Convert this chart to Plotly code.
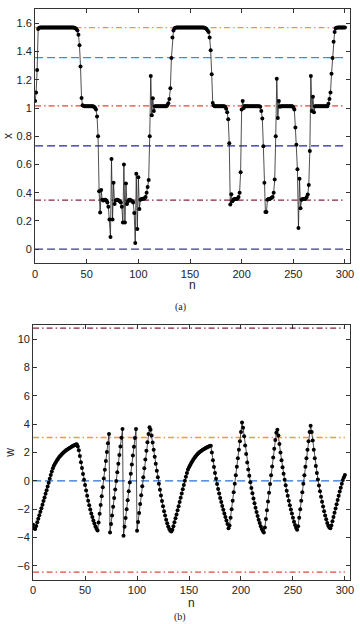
import plotly.graph_objects as go

# ---------------- data ----------------
n = list(range(0, 301))

x_vals = [
    1.05, 1.11, 1.27, 1.56, 1.57, 1.571, 1.571, 1.571, 1.571, 1.571,
    1.571, 1.571, 1.571, 1.571, 1.571, 1.571, 1.571, 1.571, 1.571, 1.571,
    1.571, 1.571, 1.571, 1.571, 1.571, 1.571, 1.571, 1.571, 1.571, 1.571,
    1.571, 1.571, 1.571, 1.571, 1.571, 1.571, 1.571, 1.571, 1.569, 1.566,
    1.56, 1.55, 1.52, 1.445, 1.295, 1.072, 1.02, 1.014, 1.013, 1.013,
    1.013, 1.013, 1.013, 1.013, 1.013, 1.013, 1.013, 1.01, 1.003, 0.99,
    0.94, 0.80, 0.41, 0.26, 0.42, 0.35, 0.345, 0.35, 0.35, 0.345,
    0.33, 0.30, 0.21, 0.086, 0.64, 0.21, 0.47, 0.32, 0.345, 0.35,
    0.35, 0.345, 0.34, 0.33, 0.30, 0.19, 0.60, 0.19, 0.466, 0.32,
    0.34, 0.35, 0.35, 0.345, 0.34, 0.33, 0.257, 0.043, 0.535, 0.143,
    0.51, 0.285, 0.35, 0.355, 0.355, 0.36, 0.36, 0.37, 0.40, 0.44,
    0.49, 0.80, 1.227, 0.95, 1.07, 0.98, 1.013, 1.013, 1.013, 1.013,
    1.013, 1.013, 1.013, 1.013, 1.013, 1.013, 1.013, 1.013, 1.02, 1.035,
    1.065, 1.14, 1.355, 1.50, 1.55, 1.565, 1.57, 1.571, 1.571, 1.571,
    1.571, 1.571, 1.571, 1.571, 1.571, 1.571, 1.571, 1.571, 1.571, 1.571,
    1.571, 1.571, 1.571, 1.571, 1.571, 1.571, 1.571, 1.571, 1.571, 1.571,
    1.571, 1.571, 1.571, 1.571, 1.569, 1.566, 1.56, 1.55, 1.54, 1.50,
    1.41, 1.24, 1.036, 1.018, 1.013, 1.013, 1.013, 1.013, 1.013, 1.013,
    1.013, 1.013, 1.013, 1.013, 1.01, 0.995, 0.97, 0.92, 0.75, 0.316,
    0.39, 0.34, 0.35, 0.355, 0.355, 0.355, 0.36, 0.37, 0.40, 0.546,
    0.99, 1.05, 1.00, 1.015, 1.013, 1.013, 1.013, 1.013, 1.013, 1.013,
    1.013, 1.013, 1.013, 1.013, 1.013, 1.013, 1.013, 1.013, 1.01, 0.98,
    0.927, 0.73, 0.47, 0.264, 0.264, 0.35, 0.355, 0.355, 0.36, 0.365,
    0.37, 0.40, 0.494, 0.80, 1.207, 0.93, 1.05, 1.01, 1.013, 1.013,
    1.013, 1.013, 1.013, 1.013, 1.013, 1.013, 1.013, 1.013, 1.013, 1.013,
    1.005, 0.99, 0.863, 0.74, 0.566, 0.15, 0.50, 0.29, 0.35, 0.355,
    0.355, 0.355, 0.36, 0.37, 0.387, 0.454, 0.696, 1.227, 0.98, 1.08,
    0.97, 1.013, 1.013, 1.013, 1.013, 1.013, 1.013, 1.013, 1.013, 1.013,
    1.013, 1.013, 1.013, 1.013, 1.03, 1.065, 1.11, 1.243, 1.355, 1.47,
    1.54, 1.565, 1.57, 1.571, 1.571, 1.571, 1.571, 1.571, 1.571, 1.571,
    1.571,
]

w_vals = [
    -3.1, -3.35, -3.4, -3.18, -2.93, -2.68, -2.43, -2.18, -1.93, -1.68,
    -1.43, -1.18, -0.92, -0.66, -0.4, -0.14, 0.14, 0.42, 0.66, 0.88,
    1.06, 1.2, 1.33, 1.45, 1.56, 1.66, 1.75, 1.83, 1.91, 1.98,
    2.05, 2.11, 2.17, 2.22, 2.27, 2.32, 2.36, 2.41, 2.45, 2.49,
    2.52, 2.56, 2.58, 2.42, 2.15, 1.75, 1.32, 0.9, 0.48, 0.08,
    -0.3, -0.68, -1.05, -1.4, -1.72, -2.02, -2.3, -2.56, -2.8, -3.02,
    -3.22, -3.38, -3.5, -2.95, -2.33, -1.7, -1.08, -0.46, 0.16, 0.78,
    1.4, 2.03, 2.66, 3.3, -3.65, -3.05, -2.44, -1.83, -1.22, -0.62,
    -0.02, 0.6, 1.2, 1.82, 2.43, 3.04, 3.65, -3.88, -3.25, -2.63,
    -2.0, -1.37, -0.74, -0.12, 0.5, 1.15, 1.78, 2.4, 3.02, 3.65,
    -3.53, -2.9, -2.27, -1.64, -1.01, -0.38, 0.25, 0.88, 1.5, 2.12,
    2.72, 3.3, 3.79, 3.6, 3.2, 2.7, 2.2, 1.7, 1.2, 0.72,
    0.25, -0.2, -0.63, -1.04, -1.43, -1.8, -2.14, -2.45, -2.74, -3.0,
    -3.22, -3.4, -3.52, -3.58, -3.45, -3.2, -2.93, -2.65, -2.37, -2.08,
    -1.79, -1.5, -1.2, -0.9, -0.6, -0.3, 0.0, 0.28, 0.55, 0.8,
    0.95, 1.1, 1.24, 1.37, 1.49, 1.6, 1.7, 1.79, 1.87, 1.94,
    2.01, 2.07, 2.13, 2.18, 2.23, 2.27, 2.31, 2.35, 2.39, 2.42,
    2.45, 2.47, 2.0, 1.45, 0.98, 0.55, 0.15, -0.22, -0.57, -0.9,
    -1.21, -1.5, -1.78, -2.04, -2.3, -2.55, -2.8, -3.05, -3.34, -3.15,
    -2.6, -2.0, -1.4, -0.8, -0.2, 0.4, 1.0, 1.6, 2.2, 2.8,
    3.45, 4.12, 3.75, 3.15, 2.5, 1.9, 1.3, 0.8, 0.35, -0.1,
    -0.5, -0.88, -1.24, -1.58, -1.9, -2.2, -2.48, -2.74, -2.98, -3.2,
    -3.4, -3.55, -3.65, -3.3, -2.7, -2.08, -1.46, -0.84, -0.22, 0.4,
    1.02, 1.64, 2.26, 2.88, 3.4, 3.6, 3.2, 2.6, 2.0, 1.45,
    0.95, 0.5, 0.08, -0.32, -0.7, -1.06, -1.4, -1.72, -2.02, -2.3,
    -2.6, -2.88, -3.12, -3.32, -3.46, -3.2, -2.6, -2.0, -1.4, -0.8,
    -0.2, 0.4, 1.0, 1.6, 2.2, 2.8, 3.45, 3.88, 3.45, 2.85,
    2.2, 1.6, 1.05, 0.55, 0.1, -0.33, -0.74, -1.12, -1.48, -1.82,
    -2.14, -2.44, -2.72, -2.97, -3.17, -3.3, -3.34, -3.15, -2.85, -2.55,
    -2.25, -1.95, -1.65, -1.35, -1.05, -0.76, -0.48, -0.2, 0.05, 0.25,
    0.42,
]

# horizontal reference levels
x_levels = [1.5708, 1.357, 1.015, 0.732, 0.347, 0.0]
x_level_colors = ["#f39a2e", "#3b8de0", "#e5463c", "#2323a8", "#8a2438", "#3a3a88"]
x_level_styles = ["dashdot", "dash", "dashdot", "dash", "dashdot", "dash"]

w_levels = [10.78, 3.06, 0.0, -6.45]
w_level_colors = ["#8a2438", "#f39a2e", "#2a70d8", "#e5463c"]
w_level_styles = ["dashdot", "dashdot", "dash", "dashdot"]

level_span = [0, 300]

x_ticks = [0, 50, 100, 150, 200, 250, 300]
y1_ticks = [0, 0.2, 0.4, 0.6, 0.8, 1.0, 1.2, 1.4, 1.6]
y1_labels = ["0", "0.2", "0.4", "0.6", "0.8", "1", "1.2", "1.4", "1.6"]
y2_ticks = [-6, -4, -2, 0, 2, 4, 6, 8, 10]
y2_labels = ["\u22126", "\u22124", "\u22122", "0", "2", "4", "6", "8", "10"]

# ---------------- figure ----------------
W, H = 360, 624
def fx(p):
    return p / W
def fy(p):
    return 1 - p / H

DASH = {"dash": "8px,4px", "dashdot": "6px,3px,1.5px,3px"}

fig = go.Figure()

for v, c, s in zip(x_levels, x_level_colors, x_level_styles):
    fig.add_trace(go.Scatter(x=level_span, y=[v, v], mode="lines",
                             line=dict(color=c, width=1.3, dash=DASH[s]),
                             xaxis="x", yaxis="y", hoverinfo="skip"))
fig.add_trace(go.Scatter(x=n, y=x_vals, mode="lines+markers",
                         line=dict(color="#222222", width=0.8),
                         marker=dict(color="black", size=4),
                         xaxis="x", yaxis="y"))

for v, c, s in zip(w_levels, w_level_colors, w_level_styles):
    fig.add_trace(go.Scatter(x=level_span, y=[v, v], mode="lines",
                             line=dict(color=c, width=1.3, dash=DASH[s]),
                             xaxis="x2", yaxis="y2", hoverinfo="skip"))
fig.add_trace(go.Scatter(x=n, y=w_vals, mode="lines+markers",
                         line=dict(color="#222222", width=0.8),
                         marker=dict(color="black", size=4),
                         xaxis="x2", yaxis="y2"))

font_tick = dict(family="Liberation Sans, Arial, sans-serif", size=11, color="#222222")
axis_common = dict(showgrid=False, zeroline=False, showline=True, linecolor="#333333",
                   linewidth=1, mirror="ticks", ticks="inside", ticklen=4,
                   tickcolor="#333333", tickfont=font_tick)

fig.update_layout(
    width=W, height=H, margin=dict(l=0, r=0, t=0, b=0),
    paper_bgcolor="white", plot_bgcolor="white", showlegend=False,
    xaxis=dict(domain=[fx(32.7), fx(354)], range=[0, 305], tickvals=x_ticks,
               anchor="y", **axis_common),
    yaxis=dict(domain=[fy(263.3), fy(9.3)], range=[-0.1, 1.7], tickvals=y1_ticks,
               ticktext=y1_labels, anchor="x", **axis_common),
    xaxis2=dict(domain=[fx(30.7), fx(354)], range=[0, 305], tickvals=x_ticks,
                anchor="y2", **axis_common),
    yaxis2=dict(domain=[fy(580), fy(325)], range=[-7, 11], tickvals=y2_ticks,
                ticktext=y2_labels, anchor="x2", **axis_common),
)

lab_font = dict(family="Liberation Sans, Arial, sans-serif", size=12, color="#222222")
cap_font = dict(family="Liberation Serif, DejaVu Serif, serif", size=10, color="#222222")
annos = [
    dict(text="x", x=fx(5), y=fy(136), textangle=-90, font=lab_font),
    dict(text="n", x=fx(193.5), y=fy(285), font=lab_font),
    dict(text="(a)", x=fx(181), y=fy(307), font=cap_font),
    dict(text="w", x=fx(7), y=fy(453), textangle=-90, font=lab_font),
    dict(text="n", x=fx(192), y=fy(603), font=lab_font),
    dict(text="(b)", x=fx(181), y=fy(617), font=cap_font),
]
for a in annos:
    fig.add_annotation(xref="paper", yref="paper", showarrow=False,
                       xanchor="center", yanchor="middle", **a)

fig.write_html("out.html", config={"displayModeBar": False})
